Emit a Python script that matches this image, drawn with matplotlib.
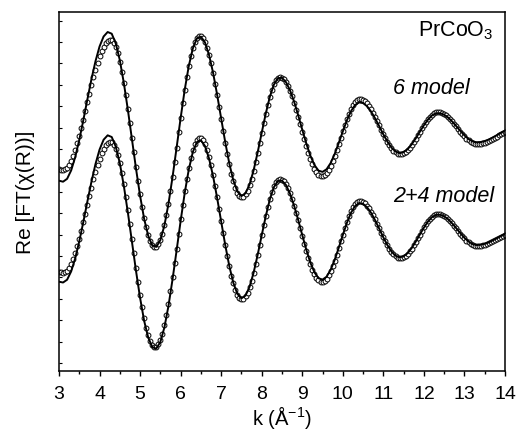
import numpy as np
import matplotlib
matplotlib.use("Agg")
import matplotlib.pyplot as plt

# Re[FT(chi(R))] back-transform vs k, arbitrary units (no y scale shown)
# "6 model": data (circles) on a 0.05 grid, fit (line) on a 0.1 grid
data_6 = [
    202.0, 201.5, 201.0, 201.6, 203.3, 206.2, 210.2, 215.1, 221.0, 227.7,
    234.9, 242.9, 251.2, 259.9, 268.6, 277.3, 285.8, 294.0, 301.5, 308.4,
    314.6, 320.0, 324.2, 327.6, 329.8, 330.9,
    330.6, 328.3, 324.0, 317.8, 309.5, 299.5, 288.4, 275.9, 262.1, 248.0,
    233.5, 218.6, 204.1, 189.9, 176.6, 164.2, 153.4, 143.7, 136.0, 130.0,
    126.1, 124.2,
    124.4, 126.7, 131.2, 137.5, 145.9, 156.1, 167.5, 180.1, 194.3, 208.6,
    223.4, 238.6, 253.3, 267.9, 281.4, 294.1, 305.0, 315.0, 322.8, 328.9,
    332.9, 334.8,
    334.7, 332.7, 328.9, 323.4, 316.3, 307.9, 298.3, 287.5, 276.1, 264.2,
    252.1, 240.0, 228.3, 217.0, 206.8, 197.5, 189.6, 183.2, 178.5, 175.3,
    174.0,
    174.5, 176.7, 180.5, 185.7, 192.2, 200.0, 208.7, 218.2, 228.0, 238.0,
    247.9, 257.4, 266.3, 274.3, 281.2, 286.7, 290.6, 293.2, 294.0,
    293.4, 291.7, 288.9, 285.1, 280.2, 274.7, 268.4, 261.5, 254.3, 246.8,
    239.3, 231.8, 224.7, 218.0, 212.0, 206.7, 202.3, 198.9, 196.5, 195.2,
    195.1, 196.0, 198.1, 201.0, 204.9, 209.6, 214.9, 221.0, 227.1, 233.5,
    239.9, 246.1, 252.0, 257.4, 262.1, 266.0, 268.9, 271.0, 271.9,
    271.9, 271.1, 269.7, 267.6, 265.0, 261.8, 258.3, 254.3, 250.1, 245.8,
    241.4, 237.1, 233.1, 229.3, 225.9, 222.9, 220.5, 218.7, 217.5, 217.0,
    217.2, 217.9, 219.3, 221.1, 223.4, 226.1, 229.1, 232.5, 235.9, 239.4,
    242.9, 246.2, 249.3, 252.1, 254.5, 256.4, 257.8, 258.7, 259.0,
    258.8, 258.2, 257.1, 255.7, 253.9, 251.9, 249.6, 247.2, 244.6, 241.9,
    239.4, 236.9, 234.6, 232.5, 230.6, 229.1, 228.0, 227.3, 227.0,
    227.1, 227.3, 227.7, 228.3, 229.1, 229.9, 231.0, 232.1, 233.3, 234.5,
    235.7, 236.9, 237.9, 239.0,
]
fit_6 = [
    190.3, 189.3, 192.2, 200.6, 213.9, 231.1, 250.8, 271.6, 291.8, 309.8,
    324.5, 334.5, 339.0, 337.3, 327.6, 310.8, 287.8, 260.8, 231.5, 202.2,
    175.2, 152.2, 135.3, 125.6, 124.1, 130.9, 145.6, 167.2, 193.9, 223.2,
    253.0, 281.1, 304.8, 322.5, 332.6, 334.4, 328.6, 316.2, 298.3, 276.3,
    252.5, 228.8, 207.6, 190.5, 179.5, 175.0, 177.7, 186.6, 200.7, 218.7,
    238.3, 257.5, 274.2, 286.4, 292.9, 293.2, 288.8, 280.5, 269.2, 255.7,
    241.3, 227.4, 215.3, 206.0, 200.4, 199.1, 201.8, 208.0, 217.1, 228.1,
    239.6, 250.6, 259.7, 265.9, 268.6, 267.9, 264.7, 259.3, 252.4, 244.6,
    236.6, 229.4, 223.4, 219.5, 218.0, 218.9, 221.9, 226.7, 232.7, 239.3,
    245.8, 251.4, 255.6, 257.7, 257.8, 256.3, 253.4, 249.4, 244.8, 240.0,
    235.6, 232.0, 229.6, 228.7, 229.0, 230.0, 231.5, 233.6, 235.9, 238.2,
    240.3,
]

# "2+4 model"
data_24 = [
    99.3, 98.6, 98.0, 98.6, 100.4, 103.2, 107.2, 112.1, 118.2, 124.9,
    132.2, 140.2, 148.6, 157.3, 166.1, 174.9, 183.4, 191.7, 199.3, 206.2,
    212.5, 217.9, 222.2, 225.6, 227.8, 228.9,
    228.6, 226.3, 222.0, 215.9, 207.7, 197.8, 186.8, 174.5, 160.7, 146.8,
    132.4, 117.7, 103.3, 89.2, 76.1, 63.8, 53.1, 43.5, 35.9, 29.9,
    26.1, 24.2,
    24.4, 26.7, 31.1, 37.4, 45.7, 55.8, 67.1, 79.6, 93.6, 107.8,
    122.4, 137.5, 152.1, 166.5, 179.9, 192.5, 203.3, 213.1, 220.9, 226.9,
    230.9, 232.8,
    232.7, 230.7, 226.9, 221.4, 214.3, 205.9, 196.3, 185.5, 174.1, 162.2,
    150.1, 138.0, 126.3, 115.0, 104.8, 95.5, 87.6, 81.2, 76.5, 73.3,
    72.0,
    72.5, 74.7, 78.5, 83.7, 90.2, 98.0, 106.7, 116.2, 126.0, 136.0,
    145.9, 155.4, 164.3, 172.3, 179.2, 184.7, 188.6, 191.2, 192.0,
    191.4, 189.6, 186.7, 182.8, 177.7, 172.0, 165.4, 158.3, 150.8, 143.0,
    135.2, 127.5, 120.1, 113.1, 107.0, 101.4, 96.9, 93.3, 90.8, 89.5,
    89.4, 90.4, 92.5, 95.6, 99.7, 104.6, 110.2, 116.5, 123.0, 129.7,
    136.3, 142.9, 149.0, 154.7, 159.6, 163.7, 166.8, 169.0, 169.9,
    169.9, 169.1, 167.6, 165.5, 162.8, 159.5, 155.8, 151.6, 147.3, 142.9,
    138.3, 133.9, 129.6, 125.8, 122.2, 119.1, 116.6, 114.7, 113.5, 113.0,
    113.2, 114.0, 115.4, 117.3, 119.7, 122.5, 125.7, 129.2, 132.8, 136.5,
    140.1, 143.6, 146.8, 149.8, 152.3, 154.3, 155.8, 156.7, 157.0,
    156.8, 156.2, 155.1, 153.7, 151.9, 149.9, 147.6, 145.2, 142.6, 139.9,
    137.4, 134.9, 132.6, 130.5, 128.6, 127.1, 126.0, 125.3, 125.0,
    125.1, 125.3, 125.7, 126.2, 126.9, 127.7, 128.7, 129.7, 130.7, 131.8,
    132.9, 134.0, 135.0, 136.0,
]
fit_24 = [
    89.3, 88.5, 91.3, 99.6, 112.7, 129.7, 149.0, 169.5, 189.2, 207.0,
    221.4, 231.3, 235.7, 234.0, 224.4, 207.8, 184.9, 158.1, 129.0, 99.9,
    73.1, 50.2, 33.6, 23.9, 22.4, 29.1, 43.7, 65.1, 91.6, 120.4,
    150.1, 177.9, 201.3, 218.9, 228.9, 230.7, 225.0, 212.6, 194.9, 173.1,
    149.5, 126.0, 105.0, 88.1, 77.1, 72.7, 75.4, 84.2, 98.4, 116.2,
    135.8, 154.9, 171.6, 183.8, 190.2, 190.4, 185.9, 177.1, 165.2, 151.0,
    135.9, 121.2, 108.4, 98.7, 92.8, 91.4, 94.3, 101.2, 111.2, 123.3,
    136.0, 148.1, 158.1, 164.9, 167.9, 167.1, 163.7, 158.0, 150.5, 142.2,
    133.6, 125.9, 119.5, 115.3, 113.7, 114.7, 117.9, 123.0, 129.5, 136.5,
    143.4, 149.5, 153.9, 156.2, 156.3, 154.7, 151.7, 147.5, 142.7, 137.8,
    133.2, 129.5, 127.0, 126.0, 126.3, 127.2, 128.7, 130.7, 132.8, 135.0,
    137.0,
]

k_data = np.linspace(3, 14, len(data_6))
k_fit = np.linspace(3, 14, len(fit_6))

plt.rcParams["font.family"] = ["Liberation Sans", "DejaVu Sans"]
plt.rcParams["mathtext.default"] = "regular"

fig = plt.figure(figsize=(5.18, 4.35), dpi=100)
ax = fig.add_axes([0.1139, 0.1448, 0.861, 0.8253])

for d, f in [(data_6, fit_6), (data_24, fit_24)]:
    ax.plot(k_data, d, "o", ms=3.5, mfc="white", mec="black", mew=0.7, zorder=2)
    ax.plot(k_fit, f, "-", color="black", lw=1.4, zorder=3)

ax.set_xlim(3, 14)
ax.set_ylim(0, 359)
ax.set_xticks(range(3, 15))
ax.set_xticks(np.arange(3.5, 14, 1.0), minor=True)
ax.set_yticks(8 + 21.4 * np.arange(17))
ax.set_yticklabels([])
ax.tick_params(axis="x", which="major", direction="out", length=3.6, width=1,
               labelsize=14, pad=6.5)
ax.tick_params(axis="x", which="minor", direction="out", length=2.2, width=1)
ax.tick_params(axis="y", which="major", direction="in", length=2, width=0.8)
for s in ax.spines.values():
    s.set_linewidth(1.1)

ax.set_xlabel("k (Å$^{-1}$)", fontsize=14.5)
ax.xaxis.set_label_coords(0.5, -0.088)
ax.set_ylabel("Re [FT(χ(R))]", fontsize=15, labelpad=14)

ax.text(11.85, 336, "PrCoO$_3$", ha="left", va="baseline", fontsize=15.5)
ax.text(11.24, 278, "6 model", ha="left", va="baseline", fontsize=15.5,
        style="italic")
ax.text(11.24, 170, "2+4 model", ha="left", va="baseline", fontsize=15.5,
        style="italic")

fig.savefig("out.png", dpi=100)
